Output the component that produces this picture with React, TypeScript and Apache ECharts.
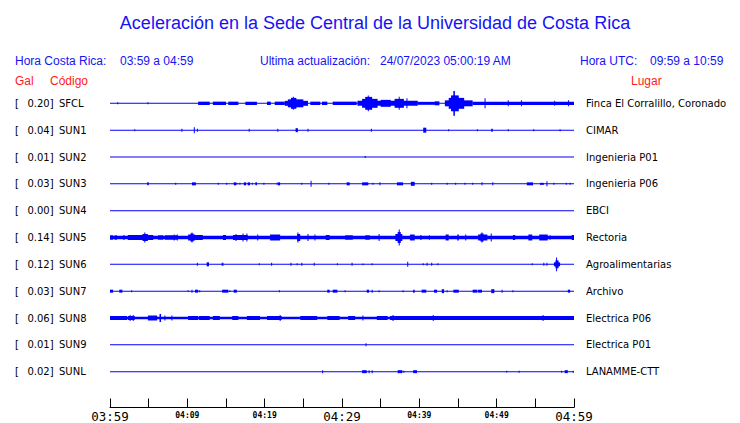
import React, { useEffect, useRef } from 'react';
import * as echarts from 'echarts';

const TITLE = 'Aceleración en la Sede Central de la Universidad de Costa Rica';
const CODES = ['SFCL', 'SUN1', 'SUN2', 'SUN3', 'SUN4', 'SUN5', 'SUN6', 'SUN7', 'SUN8', 'SUN9', 'SUNL'];
const GAL = ['0.20', '0.04', '0.01', '0.03', '0.00', '0.14', '0.12', '0.03', '0.06', '0.01', '0.02'];
const PLACES = [
  'Finca El Corralillo, Coronado', 'CIMAR', 'Ingenieria P01', 'Ingenieria P06', 'EBCI', 'Rectoria',
  'Agroalimentarias', 'Archivo', 'Electrica P06', 'Electrica P01', 'LANAMME-CTT',
];
const TICK_LABELS = ['03:59', '04:09', '04:19', '04:29', '04:39', '04:49', '04:59'];
const MAJOR_LABELS = ['03:59', '04:29', '04:59'];
const UNITS_PER_ROW = 27;

// [start minute, end minute, half amplitude] (minutes after 03:59)
const SFCL = [
  [1.0, 1.0, 1], [4.9, 4.9, 1],
  [11.4, 12.9, 1.7], [13.3, 15.0, 1.7], [15.3, 16.6, 1.7], [17.5, 19.0, 1.7], [20.3, 20.8, 1.7], [21.3, 22.6, 1.7],
  [22.6, 25.6, 2.5], [23.0, 25.0, 4], [23.4, 24.1, 5.5], [23.7, 23.8, 6.5],
  [25.9, 27.2, 1.7], [27.4, 28.1, 1.7], [28.8, 31.9, 1.7],
  [32.0, 39.8, 2.5], [32.6, 34.6, 4.5], [33.0, 33.9, 6.5], [33.4, 33.5, 8], [35.0, 36.3, 3.5],
  [36.8, 38.0, 4.5], [37.4, 37.5, 6.5], [38.4, 38.5, 5],
  [39.8, 42.2, 1.5], [42.0, 42.6, 2],
  [43.3, 46.9, 3], [43.8, 45.8, 5.5], [44.1, 45.1, 8], [44.4, 44.6, 12.5],
  [46.9, 60, 1.7], [48.5, 48.5, 5], [51.5, 51.5, 3], [53.2, 53.2, 3], [57.5, 57.5, 2.5], [59.3, 59.3, 3],
];
const SUN1 = [
  [3.2, 3.2, 1], [9.3, 9.3, 1.5], [10.9, 10.9, 3], [11.3, 11.3, 1.5], [18.0, 18.0, 1.5], [21.7, 21.7, 1.5],
  [24.0, 24.3, 2], [25.6, 25.6, 1.5], [33.8, 33.8, 1.5], [40.5, 40.9, 2.5], [43.8, 43.8, 1], [47.5, 47.5, 1],
  [49.3, 49.5, 1.5], [51.5, 51.5, 1], [54.8, 54.8, 1], [58.2, 58.2, 1],
];
const SUN2 = [[33.0, 33.0, 1]];
const SUN3 = [
  [4.8, 5.0, 1.5], [8.5, 8.5, 1], [10.6, 11.1, 1.5], [14.0, 14.0, 1], [15.1, 15.1, 1], [16.0, 16.3, 1.5],
  [16.4, 16.4, 1], [16.8, 16.8, 1], [17.3, 17.6, 1.5], [17.8, 18.1, 1.5], [18.4, 18.4, 1], [18.8, 19.0, 1.5],
  [19.9, 19.9, 1], [21.6, 21.6, 1], [21.7, 22.0, 1.5], [24.8, 24.8, 1], [26.0, 26.0, 3], [28.3, 28.3, 1],
  [30.6, 31.0, 1.5], [32.6, 33.4, 1.5], [34.0, 34.0, 1], [34.9, 34.9, 1.5], [37.1, 37.9, 1.5], [38.9, 39.4, 2],
  [41.6, 41.6, 1], [43.6, 43.6, 1], [44.7, 44.7, 1], [45.9, 45.9, 1], [46.9, 46.9, 1], [48.1, 48.1, 1.5],
  [49.5, 49.5, 1.5], [53.9, 54.7, 1.5], [55.6, 56.1, 1], [56.5, 56.5, 2.5], [57.4, 57.4, 1], [59.0, 59.0, 1],
  [59.5, 59.5, 1],
];
const SUN4: number[][] = [];
const SUN5 = [
  [0, 60, 1.7],
  [0, 0.4, 2.2], [0.6, 0.9, 2.2], [1.7, 1.9, 2.2], [2.3, 5.6, 2.5], [4.2, 4.9, 3.5], [4.5, 4.6, 5],
  [6.2, 6.9, 2.2], [7.1, 8.7, 2.2], [8.3, 8.3, 3], [8.7, 8.7, 3], [10.1, 11.0, 3], [10.4, 10.8, 4],
  [10.6, 10.7, 5], [11.0, 12.0, 2.5], [14.6, 15.0, 2.5], [15.9, 17.8, 2.5], [16.3, 16.3, 3.5], [17.2, 17.2, 4],
  [17.7, 17.7, 4], [19.1, 19.1, 3], [20.7, 22.0, 3], [24.2, 24.6, 3.5], [24.3, 24.4, 5], [25.6, 25.6, 3.5],
  [26.5, 26.5, 3], [27.9, 28.4, 2.5], [30.4, 31.4, 2.2], [33.0, 33.6, 2.2], [34.8, 34.8, 3.5], [36.9, 37.8, 3.5],
  [37.2, 37.6, 5.5], [37.4, 37.4, 8], [38.8, 39.4, 3], [40.1, 40.3, 2.2], [41.3, 41.3, 2.2], [43.4, 43.8, 3],
  [44.9, 45.1, 3], [46.0, 46.0, 3], [47.6, 48.8, 3], [47.9, 48.3, 4], [48.1, 48.1, 5], [49.3, 49.3, 4],
  [52.1, 52.4, 2.5], [54.1, 54.6, 3], [55.5, 56.6, 3], [56.9, 56.9, 2.2], [59.7, 60, 2.5],
];
const SUN6 = [
  [11.3, 11.3, 1.5], [12.5, 12.8, 2], [14.5, 14.5, 1.5], [14.6, 14.6, 1.5], [19.3, 19.3, 1], [20.9, 20.9, 1.5],
  [23.4, 23.4, 1.5], [24.2, 24.2, 1], [24.8, 24.8, 1.5], [26.4, 26.4, 1.5], [29.4, 29.4, 1], [31.3, 31.3, 1.5],
  [32.7, 32.7, 0.8], [33.9, 33.9, 1], [38.5, 38.5, 2.5], [40.5, 40.5, 1], [41.0, 41.0, 1.5], [41.6, 41.6, 1.5],
  [42.4, 42.4, 1], [54.6, 54.6, 1], [56.1, 56.1, 1.5], [56.5, 56.5, 1.5], [57.4, 58.2, 2], [57.6, 58.0, 4],
  [57.75, 57.85, 7],
];
const SUN7 = [
  [0, 0.4, 1.5], [1.2, 1.6, 1.5], [2.8, 2.8, 1], [10.1, 10.1, 0.8], [10.6, 10.6, 1.5], [11.0, 11.4, 1.5],
  [11.6, 11.6, 1], [14.5, 15.3, 1.5], [15.5, 15.5, 0.8], [16.0, 16.4, 1.5], [21.9, 21.9, 1], [28.1, 28.4, 1.5],
  [28.8, 29.4, 1.5], [30.4, 30.4, 1], [33.2, 33.5, 1.5], [33.9, 34.0, 1.5], [34.8, 34.8, 1], [37.9, 37.9, 1],
  [39.2, 39.4, 1.5], [40.3, 40.9, 1.5], [41.9, 42.3, 1.5], [42.9, 43.2, 2], [43.6, 43.6, 1], [44.4, 45.1, 1.5],
  [46.9, 47.5, 1.5], [47.6, 48.1, 1.5], [49.3, 49.7, 2], [50.7, 50.8, 1.5], [52.1, 52.1, 1], [59.2, 59.5, 1.5],
];
const SUN8 = [
  [0, 60, 1.2], [0, 2.2, 2], [2.3, 3.2, 2], [2.6, 2.6, 3], [3.0, 3.0, 3], [4.9, 6.1, 2.5], [6.4, 6.6, 4],
  [7.1, 7.1, 2.5], [8.0, 8.0, 2.5], [10.1, 11.4, 2], [11.5, 12.9, 2], [13.3, 14.2, 2], [15.8, 16.6, 2],
  [17.7, 19.4, 2], [20.3, 22.2, 2], [22.0, 22.0, 3], [24.6, 26.8, 2], [28.1, 29.7, 2], [30.8, 31.7, 2],
  [32.7, 32.7, 2.5], [34.5, 35.9, 2], [36.2, 60, 2], [36.6, 36.6, 3], [41.8, 41.8, 3], [56.0, 56.0, 3],
];
const SUN9 = [[33.1, 33.1, 1.5]];
const SUNL = [
  [27.5, 27.5, 1.5], [32.6, 33.2, 1.5], [33.5, 33.5, 1.5], [33.9, 33.9, 1.5], [37.2, 37.8, 1.5], [38.0, 38.0, 1],
  [39.2, 39.7, 1.5], [51.3, 51.3, 0.8], [52.9, 52.9, 1], [58.4, 58.4, 1], [58.8, 59.2, 1.5], [59.9, 59.9, 1],
];
const TRACES = [SFCL, SUN1, SUN2, SUN3, SUN4, SUN5, SUN6, SUN7, SUN8, SUN9, SUNL];

const BLUE = '#0000ff';
const TEXT_BLUE = '#1414f5';
const RED = '#ff1a1a';

export default function App() {
  const ref = useRef<HTMLDivElement>(null);
  useEffect(() => {
    if (!ref.current) return;
    const chart = echarts.init(ref.current, null, { renderer: 'svg' });
    const data: number[][] = [];
    TRACES.forEach((segs, row) => {
      data.push([0, 60, row, 0.5]);
      segs.forEach((s) => data.push([s[0], s[1], row, s[2]]));
    });
    const hdr = (text: string, x: number, y: number, color: string, size = 12, align = 'left') => ({
      type: 'text',
      x,
      y,
      silent: true,
      style: {
        text,
        fill: color,
        font: `normal ${size}px "Liberation Sans", Arial, sans-serif`,
        textAlign: align,
        textVerticalAlign: 'middle',
      },
    });
    chart.setOption({
      animation: false,
      backgroundColor: '#ffffff',
      grid: { left: 110, right: 166, top: 76.5, bottom: 22.5, containLabel: false },
      xAxis: {
        type: 'value',
        min: 0,
        max: 60,
        interval: 5,
        offset: 9,
        axisLine: { show: true, onZero: false, lineStyle: { color: '#000', width: 1 } },
        axisTick: { show: true, inside: true, length: 9, lineStyle: { color: '#000', width: 1 } },
        splitLine: { show: false },
        axisLabel: {
          margin: 2,
          color: '#000',
          formatter: (v: number) => {
            if (v % 10 !== 0) return '';
            const lab = TICK_LABELS[v / 10];
            return MAJOR_LABELS.includes(lab) ? `{big|${lab}}` : `{small|${lab}}`;
          },
          rich: {
            big: { fontFamily: 'DejaVu Sans Mono', fontSize: 12.5, lineHeight: 14, color: '#000' },
            small: { fontFamily: 'DejaVu Sans Mono', fontSize: 8, fontWeight: 'bold', lineHeight: 11, color: '#000' },
          },
        },
      },
      yAxis: [
        {
          type: 'value',
          min: -1,
          max: 11,
          interval: 1,
          inverse: true,
          position: 'left',
          axisLine: { show: false },
          axisTick: { show: false },
          splitLine: { show: false },
          axisLabel: {
            align: 'left',
            margin: 95,
            formatter: (v: number) => {
              if (v < 0 || v >= CODES.length) return '';
              return `{b|[}{v|${GAL[v]}]}{c|${CODES[v]}}`;
            },
            rich: {
              b: { width: 12, align: 'left', fontFamily: 'DejaVu Sans', fontSize: 10, color: '#000' },
              v: { width: 27, align: 'right', fontFamily: 'DejaVu Sans', fontSize: 10, color: '#000' },
              c: { padding: [0, 0, 0, 5], fontFamily: 'DejaVu Sans', fontSize: 10, color: '#000' },
            },
          },
        },
        {
          type: 'value',
          min: -1,
          max: 11,
          interval: 1,
          inverse: true,
          position: 'right',
          axisLine: { show: false },
          axisTick: { show: false },
          splitLine: { show: false },
          axisLabel: {
            margin: 12,
            align: 'left',
            fontFamily: 'DejaVu Sans',
            fontSize: 10,
            color: '#000',
            formatter: (v: number) => (v < 0 || v >= PLACES.length ? '' : PLACES[v]),
          },
        },
      ],
      series: [
        {
          type: 'custom',
          xAxisIndex: 0,
          yAxisIndex: 0,
          clip: false,
          data,
          renderItem: (params: any, api: any) => {
            const t0 = api.value(0);
            const t1 = api.value(1);
            const row = api.value(2);
            const amp = api.value(3);
            const p0 = api.coord([t0, row]);
            const p1 = api.coord([t1, row]);
            const h = Math.max(Math.abs(api.size([0, (2 * amp) / UNITS_PER_ROW])[1]), 1);
            let x = p0[0];
            let w = p1[0] - p0[0];
            if (w < 1) {
              x = p0[0] - 0.5;
              w = 1;
            }
            return {
              type: 'rect',
              shape: { x, y: p0[1] - h / 2, width: w, height: h },
              style: { fill: BLUE },
            };
          },
        },
      ],
      graphic: [
        hdr(TITLE, 375, 23, TEXT_BLUE, 18, 'center'),
        hdr('Hora Costa Rica:', 15, 61, TEXT_BLUE),
        hdr('03:59 a 04:59', 120, 61, TEXT_BLUE),
        hdr('Ultima actualización:', 260, 61, TEXT_BLUE),
        hdr('24/07/2023 05:00:19 AM', 380, 61, TEXT_BLUE),
        hdr('Hora UTC:', 580, 61, TEXT_BLUE),
        hdr('09:59 a 10:59', 650, 61, TEXT_BLUE),
        hdr('Gal', 15, 81, RED),
        hdr('Código', 50, 81, RED),
        hdr('Lugar', 631, 81, RED),
      ],
    });
    return () => chart.dispose();
  }, []);
  return (
    <div
      ref={ref}
      style={{ position: 'fixed', left: 0, top: 0, width: 740, height: 423, background: '#fff' }}
    />
  );
}
